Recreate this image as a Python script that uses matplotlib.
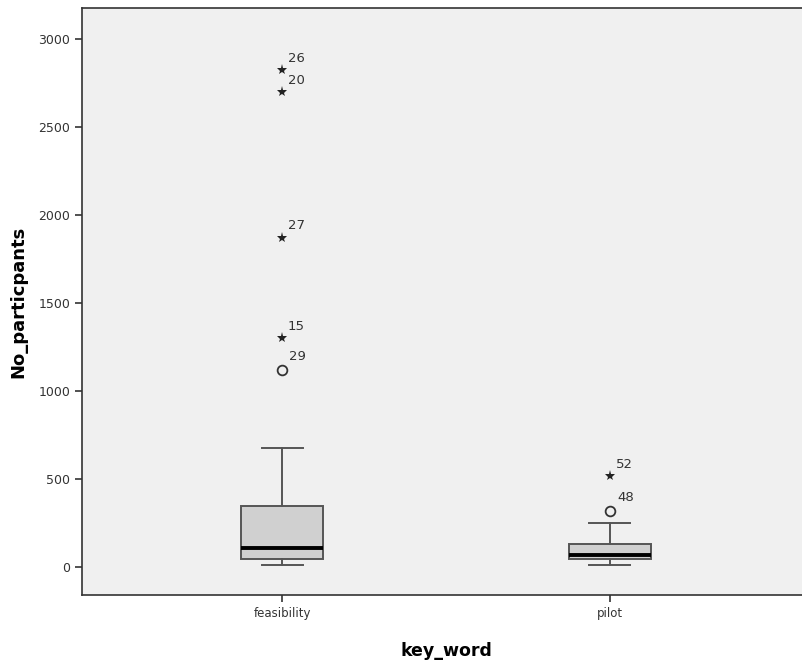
import matplotlib.pyplot as plt

# box plot summary per key word
categories = ["feasibility", "pilot"]
whisker_low = [10, 10]
q1 = [45, 42]
median = [105, 68]
q3 = [345, 130]
whisker_high = [675, 248]

# outliers: (value, case id)
mild_outliers = [[(1120, "29")], [(318, "48")]]
extreme_outliers = [[(2820, "26"), (2695, "20"), (1870, "27"), (1300, "15")], [(515, "52")]]

yticks = [0, 500, 1000, 1500, 2000, 2500, 3000]


def plot_box(ax):
    stats = []
    for i, name in enumerate(categories):
        stats.append({"label": name, "whislo": whisker_low[i], "q1": q1[i],
                      "med": median[i], "q3": q3[i], "whishi": whisker_high[i],
                      "fliers": []})
    edge = "#555555"
    ax.bxp(stats, positions=range(len(categories)), widths=0.25, patch_artist=True,
           showfliers=False,
           boxprops=dict(facecolor="#d0d0d0", edgecolor=edge, linewidth=1.4),
           whiskerprops=dict(color=edge, linewidth=1.4),
           capprops=dict(color=edge, linewidth=1.4),
           medianprops=dict(color="black", linewidth=2.8),
           capwidths=0.125)
    for i in range(len(categories)):
        for val, lab in mild_outliers[i]:
            ax.plot(i, val, marker="o", ms=7, mfc="none", mec="#333333", mew=1.3)
            ax.annotate(lab, (i, val), xytext=(5, 7), textcoords="offset points",
                        fontsize=9.5, color="#333333")
        for val, lab in extreme_outliers[i]:
            ax.plot(i, val, marker="*", ms=8, color="#222222", mew=0)
            ax.annotate(lab, (i, val), xytext=(4, 6), textcoords="offset points",
                        fontsize=9.5, color="#333333")


fig = plt.figure(figsize=(8.02, 6.61), dpi=100)
ax = fig.add_axes([82 / 802, 66 / 661, 728 / 802, 587 / 661])
ax.set_facecolor("#f0f0f0")
plot_box(ax)

ax.set_xlim(-0.61, 1.61)
ax.set_ylim(-160, 3175)
ax.set_yticks(yticks)
ax.set_xticks(range(len(categories)))
ax.set_xticklabels(categories)
ax.tick_params(axis="y", labelsize=9, colors="#333333", length=5, width=1.2)
ax.tick_params(axis="x", labelsize=8.5, colors="#333333", length=5, width=1.2)
for s in ax.spines.values():
    s.set_color("#333333")
    s.set_linewidth(1.2)
ax.set_ylabel("No_particpants", fontsize=13, fontweight="bold", labelpad=8)
ax.set_xlabel("key_word", fontsize=12.5, fontweight="bold", labelpad=16)

fig.savefig("out.png", dpi=100)
